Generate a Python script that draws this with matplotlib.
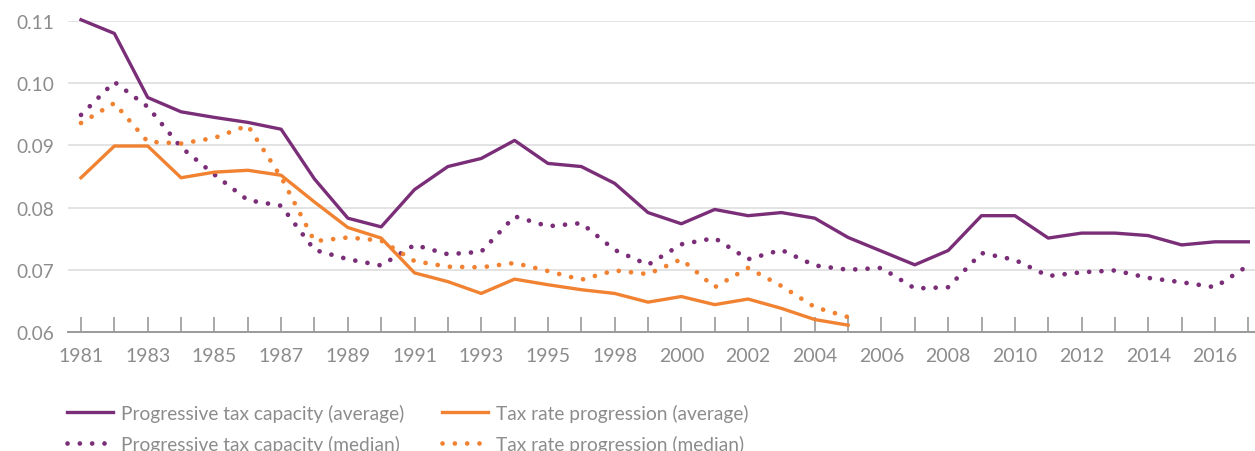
import numpy as np
import matplotlib.pyplot as plt

# years on the category axis (1997 is absent in the source)
years = [1981, 1982, 1983, 1984, 1985, 1986, 1987, 1988, 1989, 1990,
         1991, 1992, 1993, 1994, 1995, 1996, 1998, 1999, 2000, 2001,
         2002, 2003, 2004, 2005, 2006, 2007, 2008, 2009, 2010, 2011,
         2012, 2013, 2014, 2015, 2016, 2017]

cap_avg = [0.1102, 0.1080, 0.0977, 0.0954, 0.0945, 0.0937, 0.0926, 0.0846, 0.0783, 0.0769,
           0.0829, 0.0866, 0.0879, 0.0908, 0.0871, 0.0866, 0.0839, 0.0792, 0.0774, 0.0797,
           0.0787, 0.0792, 0.0783, 0.0752, 0.0730, 0.0708, 0.0731, 0.0787, 0.0787, 0.0751,
           0.0759, 0.0759, 0.0755, 0.0740, 0.0745, 0.0745]

cap_med = [0.0949, 0.1002, 0.0962, 0.0897, 0.0853, 0.0812, 0.0803, 0.0732, 0.0717, 0.0707,
           0.0740, 0.0725, 0.0729, 0.0786, 0.0770, 0.0775, 0.0732, 0.0708, 0.0741, 0.0751,
           0.0717, 0.0732, 0.0707, 0.0700, 0.0703, 0.0670, 0.0672, 0.0727, 0.0716, 0.0690,
           0.0696, 0.0699, 0.0687, 0.0680, 0.0672, 0.0707]

rate_avg = [0.0848, 0.0899, 0.0899, 0.0848, 0.0857, 0.0860, 0.0852, 0.0809, 0.0768, 0.0751,
            0.0695, 0.0681, 0.0662, 0.0685, 0.0676, 0.0668, 0.0662, 0.0648, 0.0657, 0.0644,
            0.0653, 0.0638, 0.0620, 0.0611]

rate_med = [0.0936, 0.0968, 0.0906, 0.0903, 0.0912, 0.0932, 0.0849, 0.0746, 0.0752, 0.0747,
            0.0714, 0.0705, 0.0704, 0.0711, 0.0698, 0.0684, 0.0699, 0.0693, 0.0717, 0.0672,
            0.0703, 0.0674, 0.0640, 0.0624]

purple = '#7A2E78'
orange = '#F08232'
grey_txt = '#8C8C8C'
font = 'Lato'

fig = plt.figure(figsize=(12.55, 4.52), dpi=100)
ax = fig.add_axes([68 / 1255, (452 - 333) / 452, 1 - 68 / 1255, (333 - 22) / 452])

x = np.arange(len(years))
dot = (0, (0.01, 2.6))

l1, = ax.plot(x, cap_avg, color=purple, lw=2.4, clip_on=False, zorder=4)
l2, = ax.plot(x[:len(rate_avg)], rate_avg, color=orange, lw=2.4, clip_on=False, zorder=4)
l3, = ax.plot(x, cap_med, color=purple, lw=3.4, linestyle=dot,
              dash_capstyle='round', clip_on=False, zorder=3)
l4, = ax.plot(x[:len(rate_med)], rate_med, color=orange, lw=3.4, linestyle=dot,
              dash_capstyle='round', clip_on=False, zorder=3)

ax.set_xlim(-0.39, 35.2)
ax.set_ylim(0.06, 0.11)
ax.set_yticks([0.06, 0.07, 0.08, 0.09, 0.10, 0.11])
ax.set_yticklabels(['0.06', '0.07', '0.08', '0.09', '0.10', '0.11'])
ax.yaxis.grid(True, color='#E3E3E3', lw=1.4)
ax.set_axisbelow(True)

ax.set_xticks(x)
ax.set_xticklabels([str(y) if i % 2 == 0 else '' for i, y in enumerate(years)])
ax.tick_params(axis='x', direction='in', length=11, width=1.2, color='#9A9A9A',
               labelsize=14, labelcolor=grey_txt, pad=11)
ax.tick_params(axis='y', length=0, labelsize=13.8, labelcolor=grey_txt, pad=10)
for lab in ax.get_xticklabels() + ax.get_yticklabels():
    lab.set_fontfamily(font)

for s in ['top', 'right', 'left']:
    ax.spines[s].set_visible(False)
ax.spines['bottom'].set_color('#9A9A9A')
ax.spines['bottom'].set_linewidth(1.4)

fig.legend([l1, l3, l2, l4],
           ['Progressive tax capacity (average)', 'Progressive tax capacity (median)',
            'Tax rate progression (average)', 'Tax rate progression (median)'],
           ncol=2, frameon=False, loc='upper left', bbox_to_anchor=(0.047, 0.122),
           prop={'family': font, 'size': 13.8}, labelcolor=grey_txt,
           handlelength=2.4, handletextpad=0.42, columnspacing=2.0,
           labelspacing=0.68, borderaxespad=0)

fig.savefig('out.png', dpi=100)
